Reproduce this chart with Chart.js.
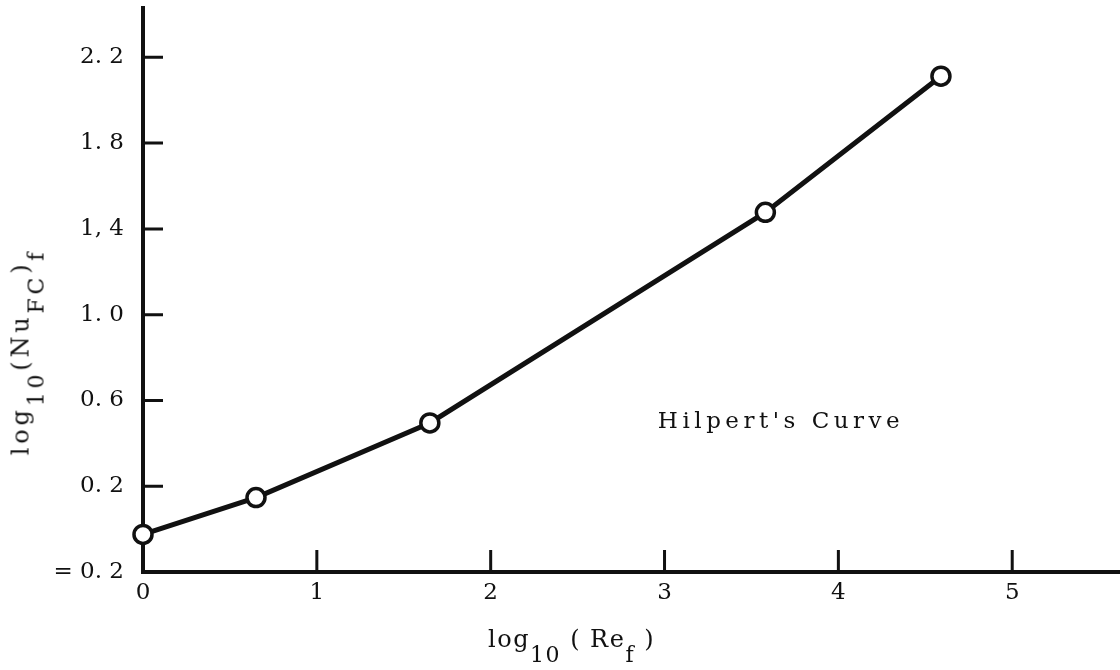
<!DOCTYPE html>
<html lang="en">
<head>
<meta charset="utf-8">
<title>Hilpert's Curve</title>
<script src="https://cdn.jsdelivr.net/npm/chart.js@4.4.1/dist/chart.umd.min.js"></script>
<style>
  body { margin: 0; background: #fff; }
  .contenedor { position: relative; width: 1120px; height: 670px; }
  #grafica { position: absolute; left: 0; top: 0; }
  .titulo { position: absolute; font-family: 'DejaVu Serif', serif; font-size: 24px; color: #111; white-space: nowrap; line-height: 1; }
  .titulo sub { font-size: 22px; vertical-align: -0.68em; line-height: 1; }
  #tituloX { left: 488px; top: 627px; letter-spacing: 1.5px; }
  #tituloY { left: 28px; top: 352px; letter-spacing: 3.8px; transform: translate(-50%, -50%) rotate(-90deg); }
</style>
</head>
<body>
<div class="contenedor">
  <canvas id="grafica" width="1120" height="670"></canvas>
  <div class="titulo" id="tituloX">log<sub>10</sub> ( Re<sub>f</sub> )</div>
  <div class="titulo" id="tituloY">log<sub>10</sub>(Nu<sub>FC</sub>)<sub>f</sub></div>
</div>
<script>
const ctx = document.getElementById('grafica');

// puntos de la curva
const valoresX = [0, 0.65, 1.65, 3.58, 4.59];
const valoresY = [-0.025, 0.147, 0.495, 1.477, 2.112];

// ejes
const ticksX = [0, 1, 2, 3, 4, 5];
const ticksY = [-0.2, 0.2, 0.6, 1.0, 1.4, 1.8, 2.2];
const etiquetasY = ['= 0. 2', '0. 2', '0. 6', '1. 0', '1, 4', '1. 8', '2. 2'];

const nota = "Hilpert's Curve";

const fuente = { family: "'DejaVu Serif', serif", size: 23 };
const negro = '#111';

// sin relleno extra alrededor del area de la grafica
function sinPadding(s) {
  s.paddingTop = 0;
  s.paddingBottom = 0;
  s.paddingLeft = 0;
  s.paddingRight = 0;
}

// marcas hacia dentro y texto de la curva
const marcas = {
  id: 'marcas',
  afterDraw(chart) {
    const c = chart.ctx;
    const area = chart.chartArea;
    const x = chart.scales.x;
    const y = chart.scales.y;
    c.save();
    c.strokeStyle = negro;
    c.lineWidth = 3;
    c.beginPath();
    ticksY.forEach(v => {
      if (v === y.min) return;
      const py = y.getPixelForValue(v);
      c.moveTo(area.left, py);
      c.lineTo(area.left + 20, py);
    });
    ticksX.forEach(v => {
      if (v === x.min) return;
      const px = x.getPixelForValue(v);
      c.moveTo(px, area.bottom);
      c.lineTo(px, area.bottom - 22);
    });
    c.stroke();

    c.fillStyle = negro;
    c.font = '23px "DejaVu Serif"';
    c.letterSpacing = '4.5px';
    c.textAlign = 'center';
    c.textBaseline = 'middle';
    c.fillText(nota, x.getPixelForValue(3.67), y.getPixelForValue(0.5));
    c.restore();
  }
};

const data = {
  datasets: [{
    label: nota,
    data: valoresX.map((v, i) => ({ x: v, y: valoresY[i] })),
    borderColor: negro,
    borderWidth: 5,
    tension: 0,
    fill: false,
    pointRadius: 9,
    pointBorderWidth: 3.5,
    pointBackgroundColor: '#fff',
    pointBorderColor: negro,
    clip: false
  }]
};

const grafica = new Chart(ctx, {
  type: 'line',
  data: data,
  plugins: [marcas],
  options: {
    responsive: false,
    animation: false,
    devicePixelRatio: 1,
    layout: { autoPadding: false, padding: { top: 8, right: 0, left: 0, bottom: 0 } },
    plugins: {
      legend: { display: false },
      tooltip: { enabled: false }
    },
    scales: {
      x: {
        type: 'linear',
        min: 0,
        max: 5.62,
        afterBuildTicks: s => { s.ticks = ticksX.map(v => ({ value: v })); },
        afterFit: s => { s.height = 98; sinPadding(s); },
        grid: { display: false, drawTicks: false },
        border: { color: negro, width: 4 },
        ticks: { color: negro, font: fuente, padding: 7, maxRotation: 0, callback: v => String(v) }
      },
      y: {
        type: 'linear',
        min: -0.2,
        max: 2.43,
        afterBuildTicks: s => { s.ticks = ticksY.map(v => ({ value: v })); },
        afterFit: s => { s.width = 143; sinPadding(s); },
        grid: { display: false, drawTicks: false },
        border: { color: negro, width: 4 },
        ticks: { color: negro, font: fuente, padding: 19, callback: v => etiquetasY[ticksY.indexOf(v)] }
      }
    }
  }
});
</script>
</body>
</html>
